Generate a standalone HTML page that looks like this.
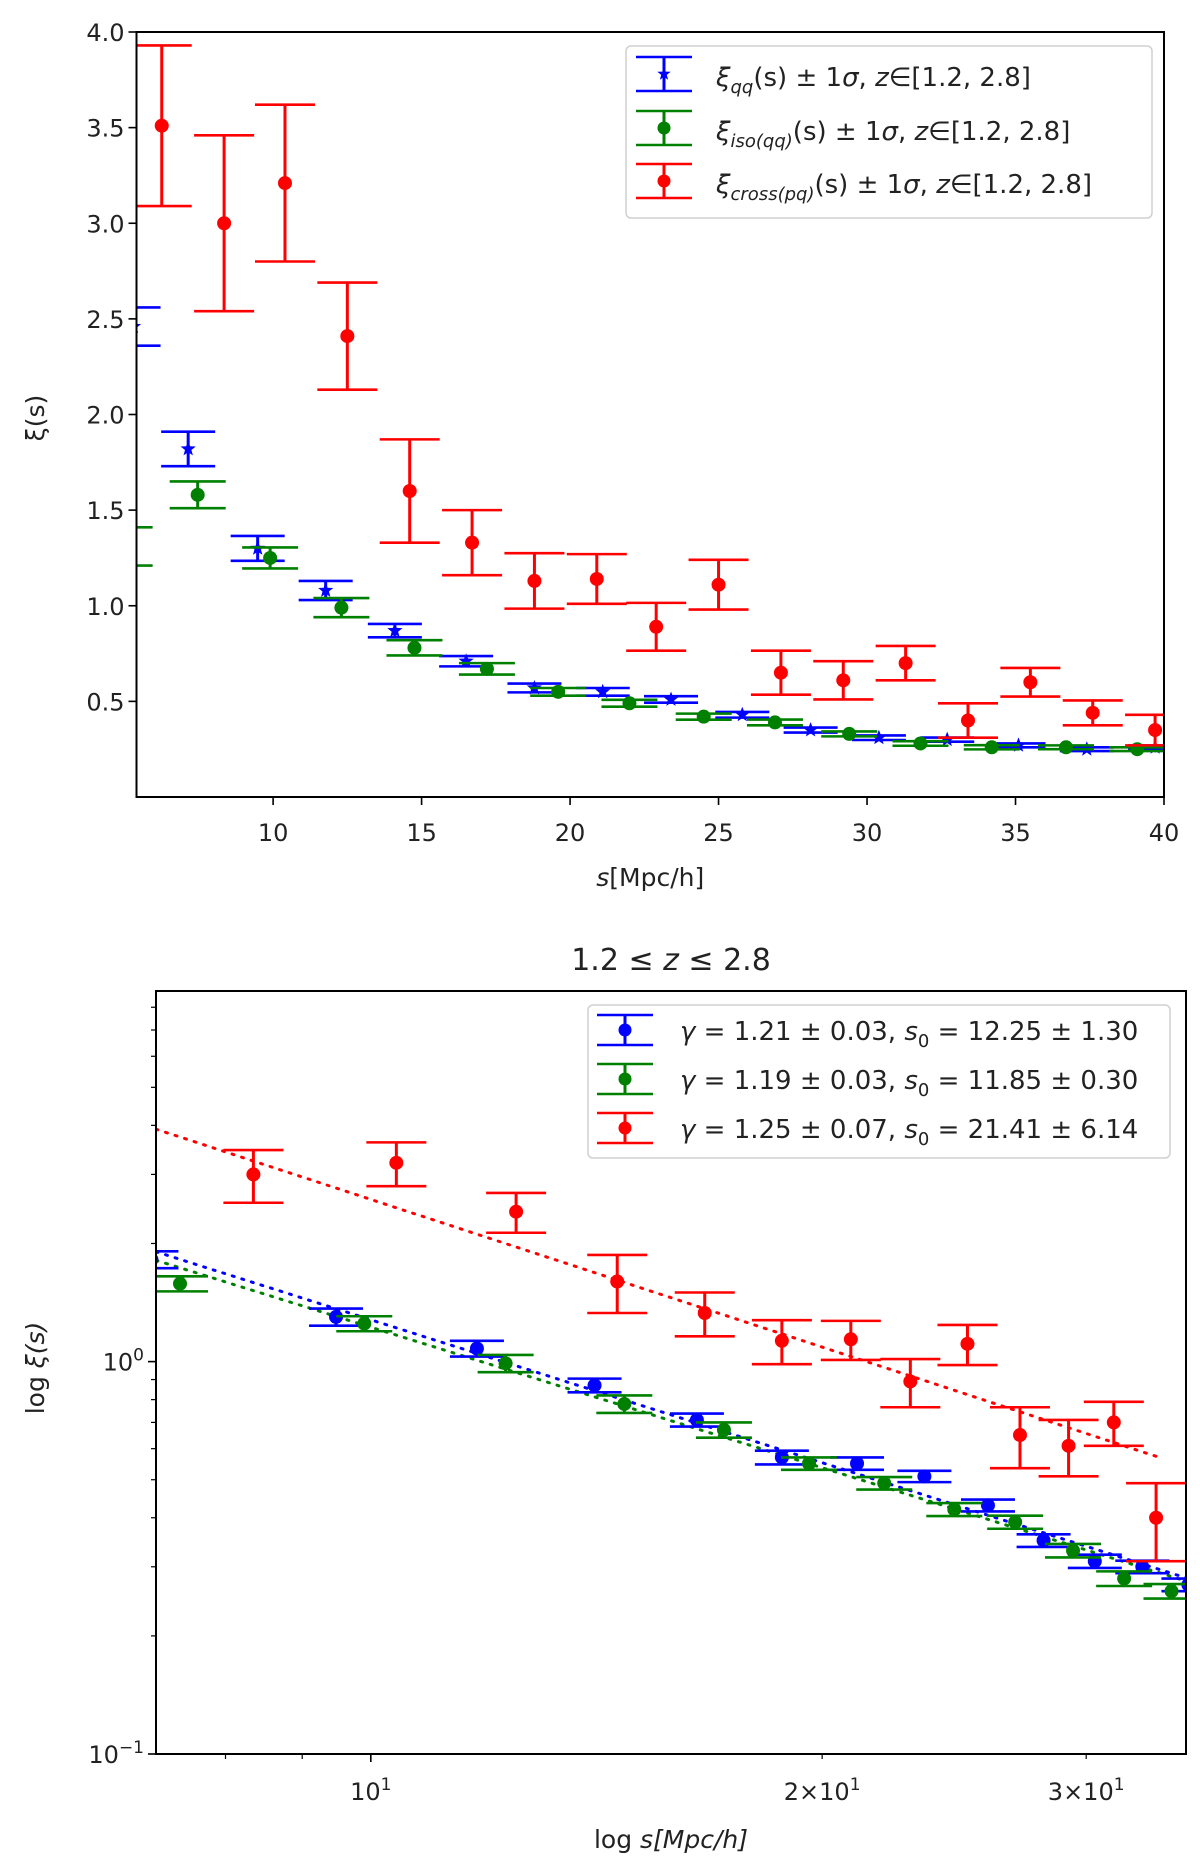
<!DOCTYPE html>
<html><head><meta charset="utf-8"><title>Correlation function</title>
<style>
html,body{margin:0;padding:0;background:#fff;}
svg{display:block;font-family:"DejaVu Sans","Liberation Sans",sans-serif;}
</style></head>
<body>
<svg id="fig" width="1200" height="1874" viewBox="0 0 1200 1874" xmlns="http://www.w3.org/2000/svg"></svg>
<script>
// ---- Top panel data ----
const qqX = [5.3, 7.14, 9.48, 11.77, 14.1, 16.5, 18.8, 21.1, 23.4, 25.8, 28.1, 30.4, 32.7, 35.1, 37.4, 39.7];
const qqY = [2.46, 1.82, 1.30, 1.08, 0.87, 0.71, 0.57, 0.55, 0.51, 0.43, 0.35, 0.31, 0.30, 0.27, 0.25, 0.26];
const qqErr = [0.10, 0.09, 0.065, 0.05, 0.035, 0.027, 0.023, 0.02, 0.017, 0.015, 0.013, 0.012, 0.011, 0.01, 0.01, 0.01];
const isoX = [5.0, 7.46, 9.9, 12.3, 14.76, 17.2, 19.6, 22.0, 24.5, 26.9, 29.4, 31.8, 34.2, 36.7, 39.1];
const isoY = [1.31, 1.58, 1.25, 0.99, 0.78, 0.67, 0.55, 0.49, 0.42, 0.39, 0.33, 0.28, 0.26, 0.26, 0.25];
const isoErr = [0.10, 0.07, 0.055, 0.05, 0.04, 0.03, 0.02, 0.018, 0.016, 0.015, 0.013, 0.012, 0.011, 0.01, 0.01];
const crX = [6.25, 8.35, 10.4, 12.5, 14.6, 16.7, 18.8, 20.9, 22.9, 25.0, 27.1, 29.2, 31.3, 33.4, 35.5, 37.6, 39.7];
const crY = [3.51, 3.00, 3.21, 2.41, 1.60, 1.33, 1.13, 1.14, 0.89, 1.11, 0.65, 0.61, 0.70, 0.40, 0.60, 0.44, 0.35];
const crErr = [0.42, 0.46, 0.41, 0.28, 0.27, 0.17, 0.145, 0.13, 0.125, 0.13, 0.115, 0.10, 0.09, 0.09, 0.075, 0.065, 0.08];
const topXTicks = [10, 15, 20, 25, 30, 35, 40];
const topYTicks = [0.5, 1.0, 1.5, 2.0, 2.5, 3.0, 3.5, 4.0];
// ---- Bottom panel fit parameters ----
const fitGamma = [1.21, 1.19, 1.25];
const fitS0 = [12.25, 11.85, 21.41];
const fitLabels = ["1.21 ± 0.03", "1.19 ± 0.03", "1.25 ± 0.07"];
const s0Labels = ["12.25 ± 1.30", "11.85 ± 0.30", "21.41 ± 6.14"];
const fitRange = [[7.19, 35], [7.19, 35], [7.19, 33.4]];
const botXMinor = [8, 9, 20, 30];
const botXMajor = [10];

const NS = "http://www.w3.org/2000/svg";
const svg = document.getElementById('fig');
function el(tag, attrs, parent, text){
  const e = document.createElementNS(NS, tag);
  for (const k in attrs) e.setAttribute(k, attrs[k]);
  if (text !== undefined) e.textContent = text;
  (parent || svg).appendChild(e);
  return e;
}
const BLUE = "#0000ff", GREEN = "#008000", RED = "#ff0000";
const TICKFS = 24, LABFS = 25;

const T = {l:136.5, r:1164, t:32, b:797, x0:5.4, x1:40, y0:0, y1:4};
const tx = v => T.l + (v - T.x0) / (T.x1 - T.x0) * (T.r - T.l);
const ty = v => T.b - (v - T.y0) / (T.y1 - T.y0) * (T.b - T.t);
const B = {l:156, r:1186, t:991, b:1754, x0:7.19, x1:34.97, y0:0.1, y1:8.8};
const bx = v => B.l + (Math.log10(v) - Math.log10(B.x0)) / (Math.log10(B.x1) - Math.log10(B.x0)) * (B.r - B.l);
const by = v => B.b - (Math.log10(v) - Math.log10(B.y0)) / (Math.log10(B.y1) - Math.log10(B.y0)) * (B.b - B.t);

function star(cx, cy, r, color, parent){
  let p = [];
  for (let i = 0; i < 10; i++){
    const a = -Math.PI/2 + i*Math.PI/5;
    const rr = i % 2 ? r*0.42 : r;
    p.push((cx + rr*Math.cos(a)).toFixed(1) + "," + (cy + rr*Math.sin(a)).toFixed(1));
  }
  return el('polygon', {points: p.join(' '), fill: color}, parent);
}

function errSeries(g, xs, ys, es, xf, yf, color, capHalf, marker, name){
  const grp = el('g', {'clip-path': g}, undefined);
  
  
  for (let i = 0; i < xs.length; i++){
    const cx = xf(xs[i]);
    const lo = yf(ys[i] - es[i]), hi = yf(ys[i] + es[i]), cy = yf(ys[i]);
    const pt = el('g', {}, grp);
    
    
    el('line', {x1:cx, x2:cx, y1:lo, y2:hi, stroke:color, 'stroke-width':3}, pt);
    el('line', {x1:cx-capHalf, x2:cx+capHalf, y1:lo, y2:lo, stroke:color, 'stroke-width':2.6}, pt);
    el('line', {x1:cx-capHalf, x2:cx+capHalf, y1:hi, y2:hi, stroke:color, 'stroke-width':2.6}, pt);
    if (marker === 'star') star(cx, cy, 8, color, pt);
    else el('circle', {cx:cx, cy:cy, r:7, fill:color}, pt);
  }
}

const defs = el('defs', {});
const c1 = el('clipPath', {id:'clipTop'}, defs);
el('rect', {x:T.l, y:T.t, width:T.r-T.l, height:T.b-T.t}, c1);
const c2 = el('clipPath', {id:'clipBot'}, defs);
el('rect', {x:B.l, y:B.t, width:B.r-B.l, height:B.b-B.t}, c2);

// ================= TOP PANEL =================
errSeries('url(#clipTop)', qqX, qqY, qqErr, tx, ty, BLUE, 27, 'star', 'xi-qq-series');
errSeries('url(#clipTop)', isoX, isoY, isoErr, tx, ty, GREEN, 28, 'circle', 'xi-iso-series');
errSeries('url(#clipTop)', crX, crY, crErr, tx, ty, RED, 30, 'circle', 'xi-cross-series');

const topAxes = el('rect', {x:T.l, y:T.t, width:T.r-T.l, height:T.b-T.t, fill:'none', stroke:'#000', 'stroke-width':2});


topXTicks.forEach(v => {
  const x = tx(v);
  el('line', {x1:x, x2:x, y1:T.b, y2:T.b+8, stroke:'#000', 'stroke-width':1.6});
  const t = el('text', {x:x, y:T.b+44, 'font-size':TICKFS, 'text-anchor':'middle', fill:'#222'}, undefined, String(v));
  
  
});
topYTicks.forEach(v => {
  const y = ty(v);
  el('line', {x1:T.l-8, x2:T.l, y1:y, y2:y, stroke:'#000', 'stroke-width':1.6});
  const t = el('text', {x:T.l-12, y:y+9, 'font-size':TICKFS, 'text-anchor':'end', fill:'#222'}, undefined, v.toFixed(1));
  
  
});
const txl = el('text', {x:(T.l+T.r)/2, y:886, 'font-size':LABFS, 'text-anchor':'middle', fill:'#222'});


el('tspan', {'font-style':'italic'}, txl, 's');
el('tspan', {}, txl, '[Mpc/h]');
const tyl = el('text', {x:0, y:0, 'font-size':LABFS, 'text-anchor':'middle', fill:'#222', transform:'translate(44,418) rotate(-90)'}, undefined, 'ξ(s)');



// top legend
const lg = el('g', {});


el('rect', {x:626, y:46, width:526, height:172, rx:5, fill:'#fff', stroke:'#d0d0d0', 'stroke-width':1.5, 'fill-opacity':0.85}, lg);
const legTop = [
  {c:BLUE, m:'star', sub:'qq', ty:86},
  {c:GREEN, m:'circle', sub:'iso(qq)', ty:140},
  {c:RED, m:'circle', sub:'cross(pq)', ty:193}
];
legTop.forEach(e => {
  const cx = 664, cy = e.ty - 12;
  const g = el('g', {}, lg);
  
  
  el('line', {x1:cx, x2:cx, y1:cy-17, y2:cy+17, stroke:e.c, 'stroke-width':3}, g);
  el('line', {x1:cx-28, x2:cx+28, y1:cy-17, y2:cy-17, stroke:e.c, 'stroke-width':2.6}, g);
  el('line', {x1:cx-28, x2:cx+28, y1:cy+17, y2:cy+17, stroke:e.c, 'stroke-width':2.6}, g);
  if (e.m === 'star') star(cx, cy, 7, e.c, g); else el('circle', {cx:cx, cy:cy, r:6.5, fill:e.c}, g);
  const t = el('text', {x:716, y:e.ty, 'font-size':26, fill:'#222'}, g);
  el('tspan', {'font-style':'italic'}, t, 'ξ');
  el('tspan', {'font-style':'italic', 'font-size':18, dy:7}, t, e.sub);
  el('tspan', {dy:-7}, t, '(s) ± 1');
  el('tspan', {'font-style':'italic'}, t, 'σ');
  el('tspan', {}, t, ', ');
  el('tspan', {'font-style':'italic'}, t, 'z');
  el('tspan', {}, t, '∈[1.2, 2.8]');
});

// ================= BOTTOM PANEL =================
const fitColors = [BLUE, GREEN, RED];
const fits = el('g', {'clip-path':'url(#clipBot)'});


fitGamma.forEach((g, k) => {
  const pts = [];
  const a = Math.log10(fitRange[k][0]), b = Math.log10(fitRange[k][1]);
  for (let i = 0; i <= 40; i++){
    const s = Math.pow(10, a + (b - a) * i / 40);
    const xi = Math.pow(fitS0[k] / s, g);
    pts.push(bx(s).toFixed(1) + ',' + by(xi).toFixed(1));
  }
  const pl = el('polyline', {points:pts.join(' '), fill:'none', stroke:fitColors[k], 'stroke-width':3, 'stroke-dasharray':'2,8', 'stroke-linecap':'round'}, fits);
  
  
});
errSeries('url(#clipBot)', qqX.slice(1, 14), qqY.slice(1, 14), qqErr.slice(1, 14), bx, by, BLUE, 27, 'circle', 'log-xi-qq-series');
errSeries('url(#clipBot)', isoX.slice(1, 13), isoY.slice(1, 13), isoErr.slice(1, 13), bx, by, GREEN, 28, 'circle', 'log-xi-iso-series');
errSeries('url(#clipBot)', crX.slice(1, 14), crY.slice(1, 14), crErr.slice(1, 14), bx, by, RED, 30, 'circle', 'log-xi-cross-series');

const botAxes = el('rect', {x:B.l, y:B.t, width:B.r-B.l, height:B.b-B.t, fill:'none', stroke:'#000', 'stroke-width':2});


botXMajor.forEach(v => {
  const x = bx(v);
  el('line', {x1:x, x2:x, y1:B.b, y2:B.b+8, stroke:'#000', 'stroke-width':1.6});
  const t = el('text', {x:x, y:B.b+46, 'font-size':TICKFS, 'text-anchor':'middle', fill:'#222'});
  
  
  el('tspan', {}, t, '10');
  el('tspan', {'font-size':17, dy:-10}, t, '1');
});
botXMinor.forEach(v => {
  const x = bx(v);
  el('line', {x1:x, x2:x, y1:B.b, y2:B.b+5, stroke:'#000', 'stroke-width':1.2});
  if (v >= 20){
    const t = el('text', {x:x, y:B.b+46, 'font-size':TICKFS, 'text-anchor':'middle', fill:'#222'});
    
    
    el('tspan', {}, t, (v/10) + '×10');
    el('tspan', {'font-size':17, dy:-10}, t, '1');
  }
});
[[0.1, '−1'], [1, '0']].forEach(p => {
  const y = by(p[0]);
  el('line', {x1:B.l-8, x2:B.l, y1:y, y2:y, stroke:'#000', 'stroke-width':1.6});
  const t = el('text', {x:B.l-12, y:y+9, 'font-size':TICKFS, 'text-anchor':'end', fill:'#222'});
  
  
  el('tspan', {}, t, '10');
  el('tspan', {'font-size':17, dy:-10}, t, p[1]);
});
[0.2,0.3,0.4,0.5,0.6,0.7,0.8,0.9,2,3,4,5,6,7,8].forEach(v => {
  const y = by(v);
  el('line', {x1:B.l-5, x2:B.l, y1:y, y2:y, stroke:'#000', 'stroke-width':1.2});
});
const ttl = el('text', {x:(B.l+B.r)/2, y:970, 'font-size':30, 'text-anchor':'middle', fill:'#222'});


el('tspan', {}, ttl, '1.2 ≤ ');
el('tspan', {'font-style':'italic'}, ttl, 'z');
el('tspan', {}, ttl, ' ≤ 2.8');
const bxl = el('text', {x:(B.l+B.r)/2, y:1848, 'font-size':LABFS, 'text-anchor':'middle', fill:'#222'});


el('tspan', {}, bxl, 'log ');
el('tspan', {'font-style':'italic'}, bxl, 's[Mpc/h]');
const byl = el('text', {x:0, y:0, 'font-size':LABFS, 'text-anchor':'middle', fill:'#222', transform:'translate(44,1368) rotate(-90)'});


el('tspan', {}, byl, 'log ');
el('tspan', {'font-style':'italic'}, byl, 'ξ(s)');

// bottom legend
const lg2 = el('g', {});


el('rect', {x:588, y:1005, width:582, height:153, rx:5, fill:'#fff', stroke:'#d0d0d0', 'stroke-width':1.5, 'fill-opacity':0.85}, lg2);
fitGamma.forEach((g, k) => {
  const cy = 1030 + k*49;
  const cx = 625;
  const e = el('g', {}, lg2);
  
  
  el('line', {x1:cx, x2:cx, y1:cy-15, y2:cy+15, stroke:fitColors[k], 'stroke-width':3}, e);
  el('line', {x1:cx-28, x2:cx+28, y1:cy-15, y2:cy-15, stroke:fitColors[k], 'stroke-width':2.6}, e);
  el('line', {x1:cx-28, x2:cx+28, y1:cy+15, y2:cy+15, stroke:fitColors[k], 'stroke-width':2.6}, e);
  el('circle', {cx:cx, cy:cy, r:6.5, fill:fitColors[k]}, e);
  const t = el('text', {x:680, y:cy+10, 'font-size':26, fill:'#222'}, e);
  el('tspan', {'font-style':'italic'}, t, 'γ');
  el('tspan', {}, t, ' = ' + fitLabels[k] + ', ');
  el('tspan', {'font-style':'italic'}, t, 's');
  el('tspan', {'font-size':18, dy:7}, t, '0');
  el('tspan', {dy:-7}, t, ' = ' + s0Labels[k]);
});
</script>
</body></html>
